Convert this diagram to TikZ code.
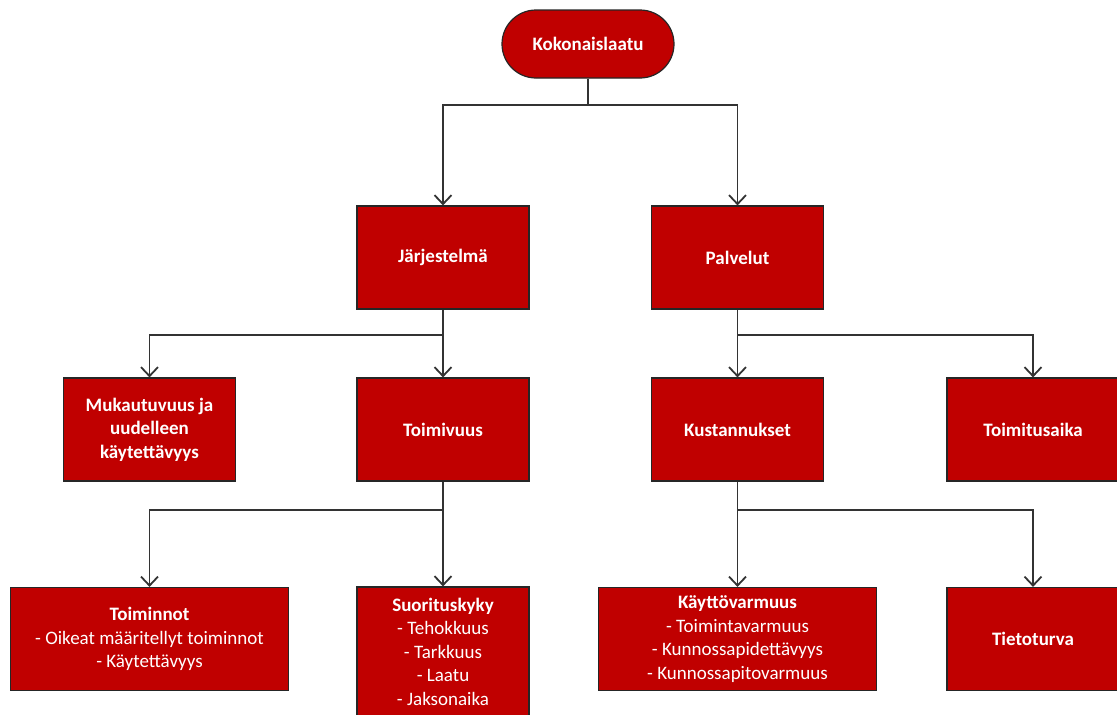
\documentclass[tikz,border=0pt]{standalone}
\usepackage{fontspec}
\setmainfont{Carlito}
\usetikzlibrary{arrows.meta}
\definecolor{boxred}{HTML}{C00000}
\definecolor{linegray}{HTML}{333333}
\begin{document}
\begin{tikzpicture}[x=1pt,y=-1pt,
  box/.style={draw=black!85, line width=1.2pt, fill=boxred, text=white,
    align=center, inner sep=0pt, minimum height=103pt,
    font=\fontsize{19}{23.5}\selectfont},
  narrow/.style={box, minimum width=172pt},
  wide/.style={box, minimum width=278pt},
  title/.style={font=\fontsize{19}{23.5}\selectfont\bfseries},
  conn/.style={draw=linegray, line width=1.8pt,
    -{Straight Barb[length=9pt,width=17pt,line width=1.8pt]}},
  trunk/.style={draw=linegray, line width=1.8pt}]
\useasboundingbox (0,0) rectangle (1117,715);

% top level
\node[box, title, minimum width=172pt, minimum height=68pt, rounded corners=34pt]
  (koko) at (588,44) {Kokonaislaatu};

% second level
\node[narrow, title] (jarj) at (443,257.5) {Järjestelmä};
\node[narrow, title] (palv) at (737.5,257.5) {Palvelut};

% third level
\node[narrow, title] (muk) at (149.5,429.5) {Mukautuvuus ja\\uudelleen\\käytettävyys};
\node[narrow, title] (toimiv) at (443,429.5) {Toimivuus};
\node[narrow, title] (kust) at (737.5,429.5) {Kustannukset};
\node[narrow, title] (toimaika) at (1033,429.5) {Toimitusaika};

% fourth level
\node[wide] (toimin) at (149.5,639)
  {\textbf{Toiminnot}\\- Oikeat määritellyt toiminnot\\- Käytettävyys};
\node[narrow, minimum height=129pt] (suor) at (443,651.5)
  {\textbf{Suorituskyky}\\- Tehokkuus\\- Tarkkuus\\- Laatu\\- Jaksonaika};
\node[wide] (kaytto) at (737.5,639)
  {\textbf{Käyttövarmuus}\\- Toimintavarmuus\\- Kunnossapidettävyys\\- Kunnossapitovarmuus};
\node[narrow, title] (tieto) at (1033,639) {Tietoturva};

% connectors
\draw[trunk] (koko.south) -- ++(0,26) coordinate (kj);
\draw[conn] (kj) -| (jarj.north);
\draw[conn] (kj) -| (palv.north);

\draw[conn] (jarj.south) -- (toimiv.north);
\draw[conn] (jarj.south) -- ++(0,25) -| (muk.north);

\draw[conn] (palv.south) -- (kust.north);
\draw[conn] (palv.south) -- ++(0,25) -| (toimaika.north);

\draw[conn] (toimiv.south) -- (suor.north);
\draw[conn] (toimiv.south) -- ++(0,28) -| (toimin.north);

\draw[conn] (kust.south) -- (kaytto.north);
\draw[conn] (kust.south) -- ++(0,28) -| (tieto.north);
\end{tikzpicture}
\end{document}
